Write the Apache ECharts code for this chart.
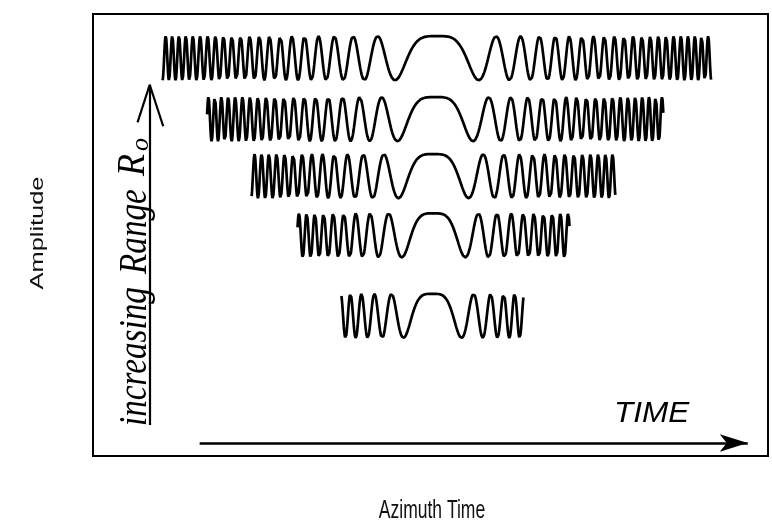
<!DOCTYPE html>
<html>
<head>
<meta charset="utf-8">
<script src="https://cdn.jsdelivr.net/npm/echarts@6/dist/echarts.min.js"></script>
<style>
html, body { margin: 0; padding: 0; background: #fff; }
#chart { width: 772px; height: 526px; }
</style>
</head>
<body>
<div id="chart"></div>
<script>
// azimuth chirps, far range at the top, near range at the bottom
// x: azimuth time (0..100), y: amplitude axis units (0..100)
const rowStart = [10.3, 16.9, 23.5, 30.3, 36.8];
const rowEnd = [91.6, 84.5, 77.4, 70.6, 63.8];
const rowLevel = [90.0, 76.2, 63.3, 49.9, 31.7];
// half distance between the two dips either side of the flat top
const rowNull = [6.2, 5.6, 5.2, 4.7, 4.3];
const rowAmp = [5, 5, 5, 5, 5];

const chart = echarts.init(document.getElementById('chart'));

// linear FM (chirp) signal: phase grows with the square of time from the centre
function chirp(i) {
  const c = (rowStart[i] + rowEnd[i]) / 2;
  const pts = [];
  for (let t = rowStart[i]; t <= rowEnd[i]; t += 0.03) {
    const u = (t - c) / rowNull[i];
    pts.push([t, rowLevel[i] + rowAmp[i] * Math.cos(Math.PI * u * u)]);
  }
  return pts;
}

const series = rowStart.map((s, i) => ({
  type: 'line',
  data: chirp(i),
  showSymbol: false,
  silent: true,
  lineStyle: { color: '#000', width: 2.7 }
}));

// arrows drawn as mark lines on the same axes
series.push({
  type: 'line',
  data: [],
  markLine: {
    silent: true,
    symbol: ['none', 'none'],
    label: { show: false },
    lineStyle: { color: '#000', width: 2.2, type: 'solid' },
    data: [
      [{ coord: [8.4, 7] }, { coord: [8.4, 84] }],
      [{ coord: [6.6, 75.5] }, { coord: [8.4, 84] }],
      [{ coord: [10.4, 74.6] }, { coord: [8.4, 84] }]
    ]
  }
});
series.push({
  type: 'line',
  data: [],
  markLine: {
    silent: true,
    symbol: ['none', 'arrow'],
    symbolSize: [13, 28],
    label: { show: false },
    lineStyle: { color: '#000', width: 2.5, type: 'solid' },
    data: [
      [{ coord: [15.8, 2.94] }, { coord: [97.0, 2.94] }]
    ]
  }
});

const hand = 'italic 40px "Liberation Serif"';
const label = '17.5px "Liberation Sans"';

const option = {
  animation: false,
  grid: {
    left: 93, right: 4, top: 14, bottom: 70,
    show: true, borderColor: '#000', borderWidth: 2
  },
  xAxis: {
    type: 'value', min: 0, max: 100,
    axisLine: { show: false }, axisTick: { show: false },
    axisLabel: { show: false }, splitLine: { show: false }
  },
  yAxis: {
    type: 'value', min: 0, max: 100,
    axisLine: { show: false }, axisTick: { show: false },
    axisLabel: { show: false }, splitLine: { show: false }
  },
  graphic: [
    // axis titles (the scanned original is stretched vertically)
    { type: 'text', x: 432, y: 511, scaleY: 1.45,
      style: { text: 'Azimuth Time', font: label, fill: '#111', align: 'center', verticalAlign: 'middle' } },
    { type: 'text', x: 38, y: 233, rotation: Math.PI / 2, scaleX: 1.45,
      style: { text: 'Amplitude', font: label, fill: '#111', align: 'center', verticalAlign: 'middle' } },
    // hand lettering
    { type: 'text', x: 155, y: 426, rotation: Math.PI / 2, scaleX: 0.83,
      style: { text: 'increasing', font: hand, fill: '#000', align: 'left', verticalAlign: 'bottom' } },
    { type: 'text', x: 155, y: 274, rotation: Math.PI / 2, scaleX: 0.83,
      style: { text: 'Range', font: hand, fill: '#000', align: 'left', verticalAlign: 'bottom' } },
    { type: 'text', x: 153, y: 176, rotation: Math.PI / 2, scaleX: 0.9,
      style: { text: 'R', font: hand, fill: '#000', align: 'left', verticalAlign: 'bottom' } },
    { type: 'text', x: 154, y: 151, rotation: Math.PI / 2,
      style: { text: 'o', font: 'italic 26px "Liberation Serif"', fill: '#000', align: 'left', verticalAlign: 'bottom' } },
    { type: 'text', x: 614, y: 414, scaleX: 1.05,
      style: { text: 'TIME', font: 'italic 30px "Liberation Sans"', fill: '#000', align: 'left', verticalAlign: 'middle' } }
  ],
  series: series
};

chart.setOption(option);
</script>
</body>
</html>
